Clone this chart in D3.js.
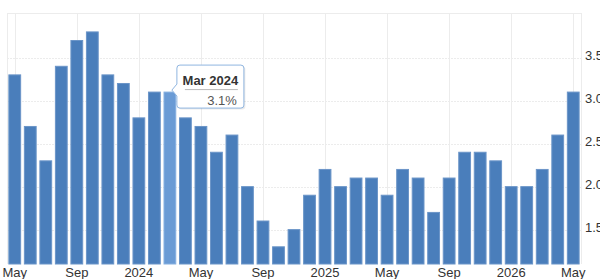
<!DOCTYPE html>
<html>
<head>
<meta charset="utf-8">
<script src="https://cdn.jsdelivr.net/npm/d3@7"></script>
<style>
  body { margin: 0; background: #fff; }
  svg { display: block; font-family: Arial, "Liberation Sans", sans-serif; }
</style>
</head>
<body>
<div id="chart"></div>
<script>
// Months from May 2023 to May 2026.
const months = [
  "May 2023", "Jun 2023", "Jul 2023", "Aug 2023", "Sep 2023", "Oct 2023", "Nov 2023", "Dec 2023",
  "Jan 2024", "Feb 2024", "Mar 2024", "Apr 2024", "May 2024", "Jun 2024", "Jul 2024", "Aug 2024",
  "Sep 2024", "Oct 2024", "Nov 2024", "Dec 2024",
  "Jan 2025", "Feb 2025", "Mar 2025", "Apr 2025", "May 2025", "Jun 2025", "Jul 2025", "Aug 2025",
  "Sep 2025", "Oct 2025", "Nov 2025", "Dec 2025",
  "Jan 2026", "Feb 2026", "Mar 2026", "Apr 2026", "May 2026"
];
const values = [
  3.3, 2.7, 2.3, 3.4, 3.7, 3.8, 3.3, 3.2,
  2.8, 3.1, 3.1, 2.8, 2.7, 2.4, 2.6, 2.0,
  1.6, 1.3, 1.5, 1.9,
  2.2, 2.0, 2.1, 2.1, 1.9, 2.2, 2.1, 1.7,
  2.1, 2.4, 2.4, 2.3,
  2.0, 2.0, 2.2, 2.6, 3.1
];
// Tick labels shown on the x axis, keyed by month.
const xTicks = {
  "May 2023": "May", "Sep 2023": "Sep", "Jan 2024": "2024", "May 2024": "May",
  "Sep 2024": "Sep", "Jan 2025": "2025", "May 2025": "May", "Sep 2025": "Sep",
  "Jan 2026": "2026", "May 2026": "May"
};
const yTicks = [1.5, 2.0, 2.5, 3.0, 3.5];
const highlighted = "Mar 2024";

const width = 600;
const height = 279;
const margin = { top: 13, right: 19, bottom: 15, left: 7 };

const svg = d3.select("#chart")
  .append("svg")
  .attr("width", width)
  .attr("height", height);

// Scales.
const x = d3.scaleBand()
  .domain(months)
  .range([margin.left, width - margin.right])
  .paddingInner(0.24)
  .paddingOuter(0.12);

const y = d3.scaleLinear()
  .domain([1.1, 4.02])
  .range([height - margin.bottom, margin.top]);

const xCenter = (m) => x(m) + x.bandwidth() / 2;

// Grid.
const grid = svg.append("g").attr("stroke", "#ececec").attr("stroke-width", 1);

grid.selectAll("line.h")
  .data(yTicks)
  .join("line")
  .attr("class", "h")
  .attr("x1", margin.left)
  .attr("x2", width - margin.right)
  .attr("y1", (d) => Math.round(y(d)) + 0.5)
  .attr("y2", (d) => Math.round(y(d)) + 0.5)
  .attr("stroke-dasharray", "2,1");

grid.selectAll("line.v")
  .data(Object.keys(xTicks))
  .join("line")
  .attr("class", "v")
  .attr("x1", (d) => Math.round(xCenter(d)) + 0.5)
  .attr("x2", (d) => Math.round(xCenter(d)) + 0.5)
  .attr("y1", margin.top)
  .attr("y2", height - margin.bottom);

// Plot frame: top, left and right edges.
grid.append("line")
  .attr("x1", margin.left).attr("x2", width - margin.right)
  .attr("y1", margin.top + 0.5).attr("y2", margin.top + 0.5);
grid.append("line")
  .attr("x1", margin.left + 0.5).attr("x2", margin.left + 0.5)
  .attr("y1", margin.top).attr("y2", height - margin.bottom);
grid.append("line")
  .attr("x1", width - margin.right + 0.5).attr("x2", width - margin.right + 0.5)
  .attr("y1", margin.top).attr("y2", height - margin.bottom);

// Bars.
svg.append("g")
  .selectAll("rect")
  .data(months)
  .join("rect")
  .attr("x", (d) => x(d))
  .attr("y", (d, i) => y(values[i]))
  .attr("width", x.bandwidth())
  .attr("height", (d, i) => y.range()[0] - y(values[i]))
  .attr("fill", (d) => (d === highlighted ? "#6a9bd5" : "#4a7ebb"))
  .attr("stroke", (d) => (d === highlighted ? "#86b0e0" : "#6b95c8"))
  .attr("stroke-width", 1);

// X axis labels.
svg.append("g")
  .selectAll("text")
  .data(Object.keys(xTicks))
  .join("text")
  .attr("x", (d) => xCenter(d))
  .attr("y", height - 2)
  .attr("text-anchor", "middle")
  .attr("font-size", 13)
  .attr("fill", "#333")
  .text((d) => xTicks[d]);

// Y axis labels on the right (clipped by the window edge, as in the original).
svg.append("g")
  .selectAll("text")
  .data(yTicks)
  .join("text")
  .attr("x", width - margin.right + 4)
  .attr("y", (d) => y(d) + 2)
  .attr("font-size", 13)
  .attr("fill", "#333")
  .text((d) => d.toFixed(1));

// Tooltip for the highlighted month.
const hi = months.indexOf(highlighted);
const tipX = xCenter(highlighted) + 7;
const tipY = y(values[hi]) - 27;
const tipW = 67;
const tipH = 43;
const tip = svg.append("g").attr("transform", `translate(${tipX},${tipY})`);

const tipPath = `M3,0 H${tipW - 3} Q${tipW},0 ${tipW},3 V${tipH - 3} Q${tipW},${tipH} ${tipW - 3},${tipH}
  H3 Q0,${tipH} 0,${tipH - 3} V31 L-5,25 L0,19 V3 Q0,0 3,0 Z`;

tip.append("path")
  .attr("d", tipPath)
  .attr("transform", "translate(1.5,1.5)")
  .attr("fill", "rgba(0,0,0,0.08)");
tip.append("path")
  .attr("d", tipPath)
  .attr("fill", "#fff")
  .attr("stroke", "#8fb5e0")
  .attr("stroke-width", 1);

tip.append("text")
  .attr("x", tipW / 2)
  .attr("y", 20)
  .attr("text-anchor", "middle")
  .attr("font-size", 13)
  .attr("font-weight", "bold")
  .attr("fill", "#333")
  .text(highlighted);

tip.append("line")
  .attr("x1", 8).attr("x2", tipW - 6)
  .attr("y1", 24.5).attr("y2", 24.5)
  .attr("stroke", "#bbb");

tip.append("text")
  .attr("x", tipW - 7)
  .attr("y", 40)
  .attr("text-anchor", "end")
  .attr("font-size", 13)
  .attr("fill", "#555")
  .text(`${values[hi]}%`);
</script>
</body>
</html>
